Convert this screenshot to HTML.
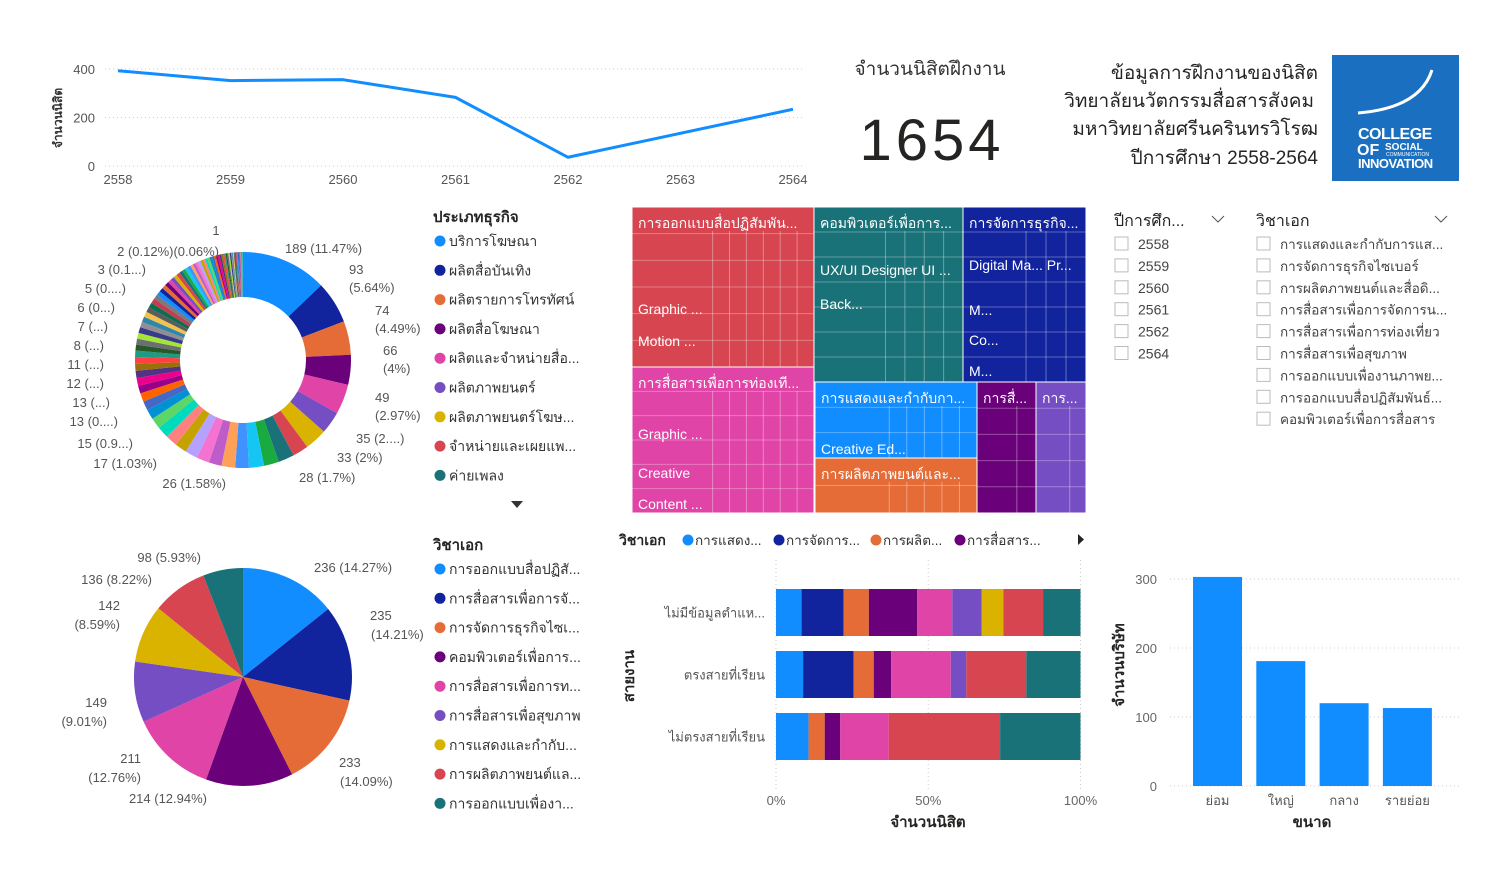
<!DOCTYPE html>
<html><head><meta charset="utf-8">
<style>
html,body{margin:0;padding:0;background:#fff;}
body{width:1500px;height:888px;overflow:hidden;font-family:"Liberation Sans","Noto Sans CJK SC",sans-serif;}
svg text{font-family:"Liberation Sans","Noto Sans CJK SC",sans-serif;}
</style></head>
<body>
<svg id="root" width="1500" height="888" viewBox="0 0 1500 888" xmlns="http://www.w3.org/2000/svg">
<g id="line-chart"></g>
<g>
<text x="930" y="75" font-size="19" text-anchor="middle" fill="#333">จำนวนนิสิตฝึกงาน</text>
<text x="932" y="160" font-size="58" text-anchor="middle" fill="#252423" letter-spacing="4">1654</text>
</g>
<g font-size="19" fill="#252423" text-anchor="end">
<text x="1318" y="79">ข้อมูลการฝึกงานของนิสิต</text>
<text x="1314" y="107">วิทยาลัยนวัตกรรมสื่อสารสังคม</text>
<text x="1318" y="135">มหาวิทยาลัยศรีนครินทรวิโรฒ</text>
<text x="1318" y="164">ปีการศึกษา 2558-2564</text>
</g>
<g>
<rect x="1332" y="55" width="127" height="126" fill="#1a6fc0"/>
<path d="M1358 113 Q1420 108 1432 70" stroke="#fff" stroke-width="3" fill="none"/>
<text x="1358" y="139" font-size="16" font-weight="bold" fill="#fff" letter-spacing="-0.5">COLLEGE</text>
<text x="1357" y="155" font-size="16" font-weight="bold" fill="#fff">OF</text>
<text x="1385" y="150" font-size="10" font-weight="bold" fill="#fff">SOCIAL</text>
<text x="1386" y="156" font-size="5" fill="#fff">COMMUNICATION</text>
<text x="1358" y="168" font-size="13" font-weight="bold" fill="#fff" letter-spacing="-0.5">INNOVATION</text>
</g>
<g id="donut"></g>
<g id="donut-legend"></g>
<g id="pie"></g>
<g id="pie-legend"></g>
<g id="treemap"></g>
<g id="slicers"></g>
<g id="stacked"></g>
<g id="bars"></g>
</svg>
<script>
// ---------- data ----------
const lineYears = [2558, 2559, 2560, 2561, 2562, 2564];
const lineValues = [393, 352, 356, 283, 36, 234];
const lineXTicks = [2558, 2559, 2560, 2561, 2562, 2563, 2564];
const lineYTicks = [0, 200, 400];

const donutValues = [189,93,74,66,66,49,49,35,35,33,33,30,30,28,28,28,26,26,26,24,22,20,19,17,17,16,15,15,14,13,13,13,13,12,12,12,11,11,11,10,10,9,9,9,8,8,8,8,7,7,7,7,6,6,6,6,6,5,5,5,5,5,4,4,4,4,4,3,3,3,3,3,3,2,2,2,2,2,2,2,2,1,1,1,1,1,1,1,1,1,1];
const donutLegend = ["บริการโฆษณา","ผลิตสื่อบันเทิง","ผลิตรายการโทรทัศน์","ผลิตสื่อโฆษณา","ผลิตและจำหน่ายสื่อ...","ผลิตภาพยนตร์","ผลิตภาพยนตร์โฆษ...","จำหน่ายและเผยแพ...","ค่ายเพลง"];

const pieValues = [236, 235, 233, 214, 211, 149, 142, 136, 98];
const pieLegend = ["การออกแบบสื่อปฏิสั...","การสื่อสารเพื่อการจั...","การจัดการธุรกิจไซเ...","คอมพิวเตอร์เพื่อการ...","การสื่อสารเพื่อการท...","การสื่อสารเพื่อสุขภาพ","การแสดงและกำกับ...","การผลิตภาพยนต์แล...","การออกแบบเพื่องา..."];

const stackCats = ["ไม่มีข้อมูลตำแห...","ตรงสายที่เรียน","ไม่ตรงสายที่เรียน"];
const stackS1 = [8.4, 8.9, 10.7];
const stackS2 = [13.8, 16.6, 0];
const stackS3 = [8.3, 6.6, 5.3];
const stackS4 = [15.9, 5.7, 5.1];
const stackS5 = [11.5, 19.6, 15.9];
const stackS6 = [9.6, 5.1, 0];
const stackS7 = [7.2, 0, 0];
const stackS8 = [13.0, 19.7, 36.6];
const stackS9 = [12.3, 17.8, 26.4];
const stackTicks = [0, 50, 100];

const sizeCats = ["ย่อม","ใหญ่","กลาง","รายย่อย"];
const sizeValues = [303, 181, 120, 113];
const sizeTicks = [0, 100, 200, 300];

const palette = ["#118DFF","#12239E","#E66C37","#6B007B","#E044A7","#744EC2","#D9B300","#D64550","#197278","#1AAB40","#15C6F4","#4092FF","#FFA058","#BE5DC9","#F472D0","#B5A1FF","#C4A200","#FF8080","#00DBBC","#5BD667","#0091D5","#4668C5","#FF6300","#99008A","#EC008C","#533285","#99700A","#FF4141","#1F9A85","#255A26","#6D6E71","#A3E635","#3A3A8C","#8E8E93","#2E86AB","#F2C14E","#5C5C5C","#0B6E4F","#C33C54","#7A7A7A"];

const NS = "http://www.w3.org/2000/svg";
function mk(parent, tag, attrs, txt){
  const e = document.createElementNS(NS, tag);
  for (const k in attrs) e.setAttribute(k, attrs[k]);
  if (txt !== undefined) e.textContent = txt;
  parent.appendChild(e);
  return e;
}
const G = id => document.getElementById(id);

// ---------- line chart ----------
(function(){
  const g = G('line-chart');
  const x = v => 118 + (v - 2558) * 112.5;
  const y = v => 166 - v * 0.2425;
  lineYTicks.forEach(t => {
    const l = mk(g,'line',{x1:105,x2:805,y1:y(t),y2:y(t),stroke:'#ccc','stroke-dasharray':'1 3'});
    
    
    const tx = mk(g,'text',{x:95,y:y(t)+5,'font-size':13,fill:'#555','text-anchor':'end'},String(t));
    
    
  });
  lineXTicks.forEach(t => {
    const tx = mk(g,'text',{x:x(t),y:184,'font-size':13,fill:'#555','text-anchor':'middle'},String(t));
    
    
  });
  const yt = mk(g,'text',{x:0,y:0,'font-size':12,'font-weight':'bold',fill:'#333','text-anchor':'middle',transform:'translate(62,118) rotate(-90)'},'จำนวนนิสิต');
  
  
  const pts = lineYears.map((yr,i)=>x(yr)+','+y(lineValues[i])).join(' ');
  const pl = mk(g,'polyline',{points:pts,fill:'none',stroke:'#118DFF','stroke-width':3,'stroke-linejoin':'round'});
  
  
})();

// ---------- arc helper ----------
function arcPath(cx,cy,r0,r1,a0,a1){
  const p=(r,a)=>[cx+r*Math.sin(a),cy-r*Math.cos(a)];
  const large = (a1-a0)>Math.PI?1:0;
  const [x1,y1]=p(r1,a0),[x2,y2]=p(r1,a1);
  if(r0<=0) return `M${cx},${cy}L${x1},${y1}A${r1},${r1} 0 ${large} 1 ${x2},${y2}Z`;
  const [x3,y3]=p(r0,a1),[x4,y4]=p(r0,a0);
  return `M${x1},${y1}A${r1},${r1} 0 ${large} 1 ${x2},${y2}L${x3},${y3}A${r0},${r0} 0 ${large} 0 ${x4},${y4}Z`;
}

// ---------- donut ----------
(function(){
  const g = G('donut');
  const tot = donutValues.reduce((a,b)=>a+b,0);
  let a = 0;
  donutValues.forEach((v,i)=>{
    const a1 = a + v/tot*2*Math.PI;
    const p = mk(g,'path',{d:arcPath(243,360,63,108,a,a1),fill:palette[i%palette.length]});
    
    
    a = a1;
  });
  const labels = [
    [285,253,'189 (11.47%)','start'],[349,274,'93','start'],[349,292,'(5.64%)','start'],
    [375,315,'74','start'],[375,333,'(4.49%)','start'],[383,355,'66','start'],[383,373,'(4%)','start'],
    [375,402,'49','start'],[375,420,'(2.97%)','start'],[356,443,'35 (2....)','start'],[337,462,'33 (2%)','start'],
    [299,482,'28 (1.7%)','start'],[226,488,'26 (1.58%)','end'],[157,468,'17 (1.03%)','end'],
    [133,448,'15 (0.9...)','end'],[118,426,'13 (0....)','end'],[110,407,'13 (...)','end'],
    [104,388,'12 (...)','end'],[104,369,'11 (...)','end'],[104,350,'8 (...)','end'],
    [108,331,'7 (...)','end'],[115,312,'6 (0...)','end'],[126,293,'5 (0....)','end'],
    [146,274,'3 (0.1...)','end'],[219,256,'2 (0.12%)(0.06%)','end'],[216,235,'1','middle']
  ];
  labels.forEach(l=>{
    const t = mk(g,'text',{x:l[0],y:l[1],'font-size':13,fill:'#555','text-anchor':l[3]},l[2]);
    
    
  });
})();

function legend(id,title,items,y0,step){
  const g = G(id);
  const t = mk(g,'text',{x:433,y:y0-19,'font-size':15,'font-weight':'bold',fill:'#252423'},title);
  
  
  items.forEach((s,i)=>{
    const c = mk(g,'circle',{cx:440,cy:y0+i*step,r:5.5,fill:palette[i]});
    
    
    const tx = mk(g,'text',{x:449,y:y0+i*step+5,'font-size':14,fill:'#333'},s);
    
    
  });
}
legend('donut-legend','ประเภทธุรกิจ',donutLegend,241,29.3);
(function(){
  const p = mk(G('donut-legend'),'path',{d:'M511 501 L523 501 L517 508 Z',fill:'#333'});
  
  
})();

// ---------- pie ----------
(function(){
  const g = G('pie');
  const tot = pieValues.reduce((a,b)=>a+b,0);
  let a = 0;
  pieValues.forEach((v,i)=>{
    const a1 = a + v/tot*2*Math.PI;
    const p = mk(g,'path',{d:arcPath(243,677,0,109,a,a1),fill:palette[i]});
    
    
    a = a1;
  });
  const labels = [
    [314,572,'236 (14.27%)','start'],[370,620,'235','start'],[371,639,'(14.21%)','start'],
    [339,767,'233','start'],[340,786,'(14.09%)','start'],[207,803,'214 (12.94%)','end'],
    [141,763,'211','end'],[141,782,'(12.76%)','end'],[107,707,'149','end'],[107,726,'(9.01%)','end'],
    [120,610,'142','end'],[120,629,'(8.59%)','end'],[152,584,'136 (8.22%)','end'],[201,562,'98 (5.93%)','end']
  ];
  labels.forEach(l=>{
    const t = mk(g,'text',{x:l[0],y:l[1],'font-size':13,fill:'#555','text-anchor':l[3]},l[2]);
    
    
  });
})();
legend('pie-legend','วิชาเอก',pieLegend,569,29.3);

// ---------- treemap ----------
(function(){
  const g = G('treemap');
  const blocks = [
    [632,207,182,160,'#D64550','การออกแบบสื่อปฏิสัมพัน...',[['Graphic ...',314],['Motion ...',346]]],
    [632,367,182,146,'#E044A7','การสื่อสารเพื่อการท่องเที...',[['Graphic ...',439],['Creative',478],['Content ...',509]]],
    [814,207,149,175,'#197278','คอมพิวเตอร์เพื่อการ...',[['UX/UI Designer   UI ...',275],['Back...',309]]],
    [963,207,123,175,'#12239E','การจัดการธุรกิจ...',[['Digital Ma...   Pr...',270],['M...',315],['Co...',345],['M...',376]]],
    [815,382,162,76,'#118DFF','การแสดงและกำกับกา...',[['Creative    Ed...',454]]],
    [815,458,162,55,'#E66C37','การผลิตภาพยนต์และ...',[]],
    [977,382,59,131,'#6B007B','การสื่...',[]],
    [1036,382,50,131,'#744EC2','การ...',[]]
  ];
  blocks.forEach(b=>{
    const r = mk(g,'rect',{x:b[0],y:b[1],width:b[2],height:b[3],fill:b[4],stroke:'#fff','stroke-width':1});
    
    
    // inner subdivision texture
    const cols = Math.max(2,Math.round(b[2]/28)), rows = Math.max(2,Math.round(b[3]/25));
    for(let i=1;i<cols;i++){
      const xx = b[0] + b[2]*(0.35 + 0.65*i/cols);
      mk(g,'line',{x1:xx,x2:xx,y1:b[1]+24,y2:b[1]+b[3],stroke:'rgba(255,255,255,0.35)','stroke-width':1});
    }
    for(let j=1;j<rows;j++){
      const yy = b[1] + b[3]*j/rows;
      mk(g,'line',{x1:b[0],x2:b[0]+b[2],y1:yy,y2:yy,stroke:'rgba(255,255,255,0.3)','stroke-width':1});
    }
    const t = mk(g,'text',{x:b[0]+6,y:b[1]+21,'font-size':14,fill:'#fff'},b[5]);
    
    
    b[6].forEach(s=>{
      const st = mk(g,'text',{x:b[0]+6,y:s[1],'font-size':14,fill:'#fff'},s[0]);
      
      
    });
  });
})();

// ---------- slicers ----------
(function(){
  const g = G('slicers');
  const years = ['2558','2559','2560','2561','2562','2564'];
  const majors = ['การแสดงและกำกับการแส...','การจัดการธุรกิจไซเบอร์','การผลิตภาพยนต์และสื่อดิ...','การสื่อสารเพื่อการจัดการน...','การสื่อสารเพื่อการท่องเที่ยว','การสื่อสารเพื่อสุขภาพ','การออกแบบเพื่องานภาพย...','การออกแบบสื่อปฏิสัมพันธ์...','คอมพิวเตอร์เพื่อการสื่อสาร'];
  const h1 = mk(g,'text',{x:1114,y:226,'font-size':16,fill:'#252423'},'ปีการศึก...');
  
  
  const c1 = mk(g,'path',{d:'M1212 216 L1218 222 L1224 216',stroke:'#555',fill:'none'});
  
  
  const h2 = mk(g,'text',{x:1256,y:226,'font-size':16,fill:'#252423'},'วิชาเอก');
  
  
  const c2 = mk(g,'path',{d:'M1435 216 L1441 222 L1447 216',stroke:'#555',fill:'none'});
  
  
  years.forEach((y,i)=>{
    const yy = 244 + i*21.9;
    const b = mk(g,'rect',{x:1115,y:yy-7,width:13,height:13,fill:'#fff',stroke:'#bbb'});
    
    
    const t = mk(g,'text',{x:1138,y:yy+5,'font-size':14,fill:'#444'},y);
    
    
  });
  majors.forEach((m,i)=>{
    const yy = 244 + i*21.9;
    const b = mk(g,'rect',{x:1257,y:yy-7,width:13,height:13,fill:'#fff',stroke:'#bbb'});
    
    
    const t = mk(g,'text',{x:1280,y:yy+5,'font-size':13.5,fill:'#444'},m);
    
    
  });
})();

// ---------- stacked bar ----------
(function(){
  const g = G('stacked');
  const x = p => 776 + p*3.045;
  const series = [stackS1,stackS2,stackS3,stackS4,stackS5,stackS6,stackS7,stackS8,stackS9];
  const rowY = [589, 651, 713], bh = 47;
  stackTicks.forEach(t=>{
    const l = mk(g,'line',{x1:x(t),x2:x(t),y1:560,y2:790,stroke:'#ccc','stroke-dasharray':'1 3'});
    
    
    const tx = mk(g,'text',{x:x(t),y:805,'font-size':13,fill:'#666','text-anchor':'middle'},t+'%');
    
    
  });
  stackCats.forEach((c,ci)=>{
    const tot = series.reduce((s,arr)=>s+arr[ci],0);
    let acc = 0;
    series.forEach((arr,si)=>{
      const v = arr[ci]/tot*100;
      if(v>0){
        const r = mk(g,'rect',{x:x(acc),y:rowY[ci],width:x(acc+v)-x(acc),height:bh,fill:palette[si]});
        
        
      }
      acc += v;
    });
    const t = mk(g,'text',{x:765,y:rowY[ci]+bh/2+5,'font-size':13,fill:'#555','text-anchor':'end'},c);
    
    
  });
  const xt = mk(g,'text',{x:928,y:827,'font-size':15,'font-weight':'bold',fill:'#252423','text-anchor':'middle'},'จำนวนนิสิต');
  
  
  const yt = mk(g,'text',{x:0,y:0,'font-size':15,'font-weight':'bold',fill:'#252423','text-anchor':'middle',transform:'translate(634,676) rotate(-90)'},'สายงาน');
  
  
  const lt = mk(g,'text',{x:619,y:545,'font-size':14,'font-weight':'bold',fill:'#252423'},'วิชาเอก');
  
  
  const lg = ['การแสดง...','การจัดการ...','การผลิต...','การสื่อสาร...'];
  const lx = [688,779,876,960];
  lg.forEach((s,i)=>{
    const c = mk(g,'circle',{cx:lx[i],cy:540,r:5.5,fill:palette[[0,1,2,3][i]]});
    
    
    const t = mk(g,'text',{x:lx[i]+7,y:545,'font-size':13.5,fill:'#333'},s);
    
    
  });
  const ar = mk(g,'path',{d:'M1078 534 L1084 539.5 L1078 545 Z',fill:'#252423'});
  
  
})();

// ---------- company size bars ----------
(function(){
  const g = G('bars');
  const y = v => 786 - v*0.69;
  const x0 = 1193, step = 63.3, bw = 49;
  sizeTicks.forEach(t=>{
    const l = mk(g,'line',{x1:1170,x2:1462,y1:y(t),y2:y(t),stroke:'#ccc','stroke-dasharray':'1 3'});
    
    
    const tx = mk(g,'text',{x:1157,y:y(t)+5,'font-size':13,fill:'#666','text-anchor':'end'},String(t));
    
    
  });
  sizeCats.forEach((c,i)=>{
    const r = mk(g,'rect',{x:x0+i*step,y:y(sizeValues[i]),width:bw,height:y(0)-y(sizeValues[i]),fill:'#118DFF'});
    
    
    const t = mk(g,'text',{x:x0+i*step+bw/2,y:805,'font-size':13,fill:'#555','text-anchor':'middle'},c);
    
    
  });
  const xt = mk(g,'text',{x:1312,y:827,'font-size':15,'font-weight':'bold',fill:'#252423','text-anchor':'middle'},'ขนาด');
  
  
  const yt = mk(g,'text',{x:0,y:0,'font-size':15,'font-weight':'bold',fill:'#252423','text-anchor':'middle',transform:'translate(1124,665) rotate(-90)'},'จำนวนบริษัท');
  
  
})();
</script>
</body></html>
